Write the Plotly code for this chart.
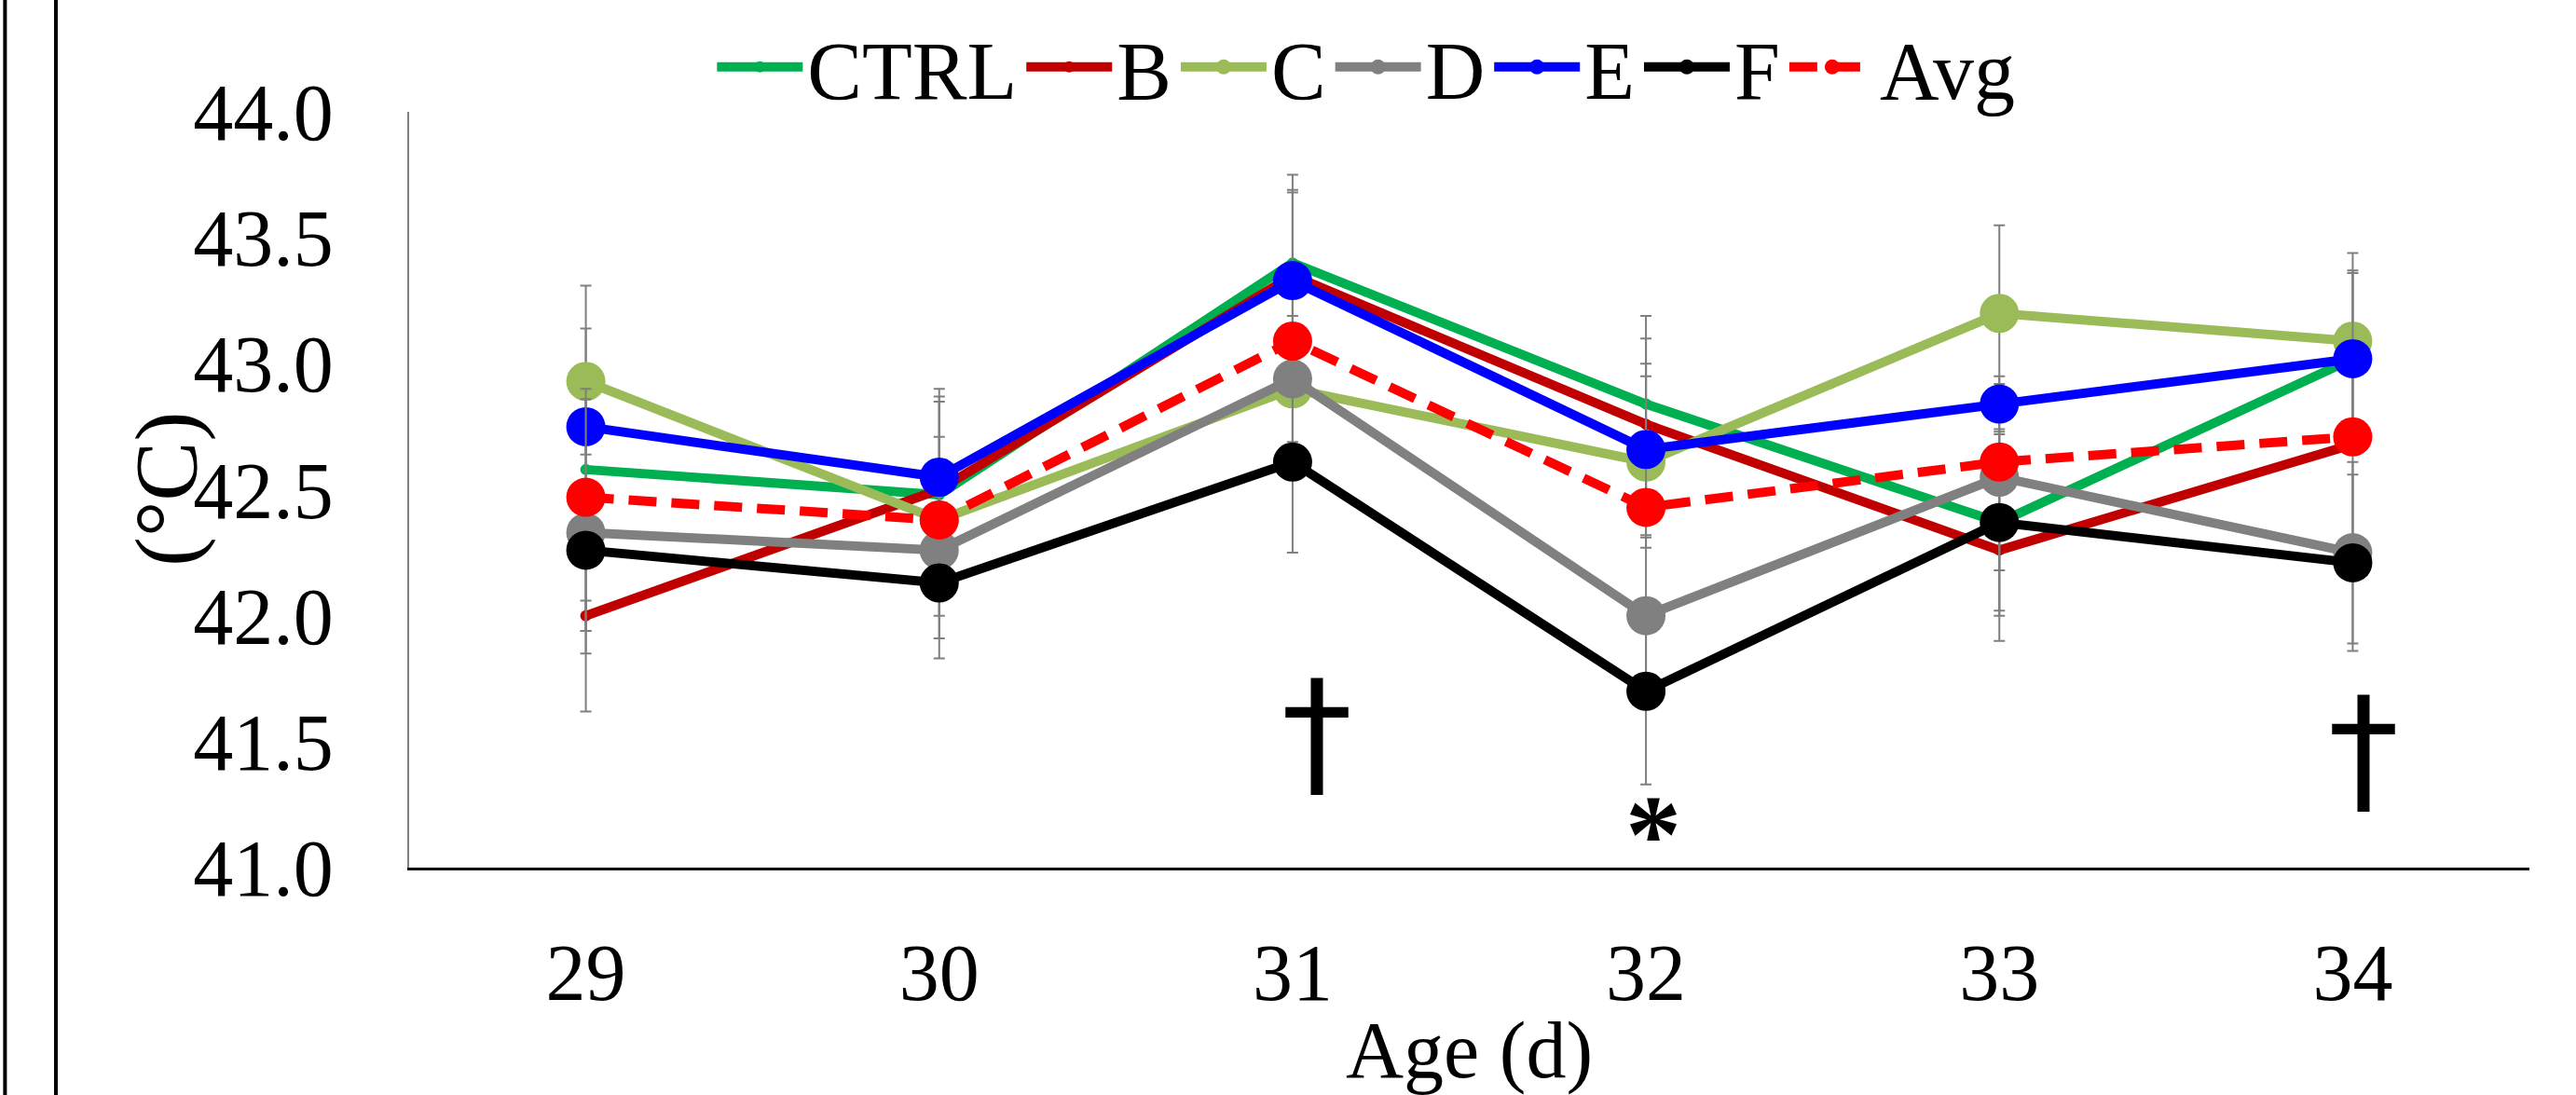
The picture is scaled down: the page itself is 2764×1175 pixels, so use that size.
import plotly.graph_objects as go

# ---------------- data ----------------
ages = [29, 30, 31, 32, 33, 34]
age_labels = ["29", "30", "31", "32", "33", "34"]

ctrl_vals = [42.58, 42.48, 43.40, 42.84, 42.37, 43.02]
b_vals = [42.00, 42.50, 43.35, 42.76, 42.26, 42.68]
c_vals = [42.93, 42.38, 42.90, 42.61, 43.20, 43.09]
d_vals = [42.33, 42.26, 42.94, 42.00, 42.55, 42.25]
e_vals = [42.75, 42.55, 43.33, 42.66, 42.84, 43.02]
f_vals = [42.26, 42.13, 42.61, 41.70, 42.37, 42.21]
avg_vals = [42.47, 42.38, 43.09, 42.43, 42.61, 42.71]

ctrl_err = [0.73, 0.37, 0.35, 0.35, 0.35, 0.34]
b_err = [0.06, 0.37, 0.34, 0.34, 0.36, 0.36]
c_err_up = [0.21, 0.33, 0.25, 0.34, 0.35, 0.35]
c_err_down = [0.21, 0.38, 0.25, 0.34, 0.35, 0.35]
d_err = [0.39, 0.35, 0.25, 0.31, 0.37, 0.36]
e_err = [0.11, 0.35, 0.35, 0.34, 0.11, 0.35]
f_err = [0.64, 0.30, 0.36, 0.37, 0.37, 0.35]

# significance marks: age, level (°C), symbol
mark_ages = [31, 32, 34]
mark_levels = [41.54, 41.13, 41.47]
mark_texts = ["†", "*", "†"]

y_ticks = [41.0, 41.5, 42.0, 42.5, 43.0, 43.5, 44.0]

FONT = "Liberation Serif"
ERR_COLOR = "#7F7F7F"

series = [
    ("CTRL", ctrl_vals, ctrl_err, ctrl_err, "#00B050", 12, "solid"),
    ("B", b_vals, b_err, b_err, "#C00000", 12, "solid"),
    ("C", c_vals, c_err_up, c_err_down, "#9BBB59", 42, "solid"),
    ("D", d_vals, d_err, d_err, "#808080", 42, "solid"),
    ("E", e_vals, e_err, e_err, "#0000FF", 42, "solid"),
    ("F", f_vals, f_err, f_err, "#000000", 42, "solid"),
    ("Avg", avg_vals, None, None, "#FF0000", 42, "30px,16px"),
]

fig = go.Figure()
for name, vals, eu, ed, color, msize, dash in series:
    err = None
    if eu is not None:
        err = dict(type="data", array=eu, arrayminus=ed, symmetric=False,
                   color=ERR_COLOR, thickness=2, width=6)
    fig.add_trace(go.Scatter(
        x=ages, y=vals, name=name, mode="lines+markers",
        line=dict(color=color, width=10, dash=dash),
        marker=dict(color=color, size=msize, symbol="circle"),
        error_y=err,
    ))

mark_style = {
    "†": dict(family="DejaVu Sans", size=152, bold=False, shift=[26, 0, 12]),
    "*": dict(family=FONT, size=120, bold=True, shift=[0, 8, 0]),
}
for i, (xa, ya, t) in enumerate(zip(mark_ages, mark_levels, mark_texts)):
    st = mark_style[t]
    fig.add_annotation(
        x=xa, y=ya, text=f"<b>{t}</b>" if st["bold"] else t, showarrow=False,
        xshift=st["shift"][i],
        font=dict(family=st["family"], size=st["size"], color="black"),
    )

# y-axis title placed beside the tick labels
fig.add_annotation(
    xref="paper", yref="paper", x=-0.1145, y=0.5, text="(°C)", textangle=-90,
    showarrow=False, xanchor="center", yanchor="middle",
    font=dict(family=FONT, size=96, color="black"),
)

# double vertical rule at the left edge of the page
for xp in [-0.1906, -0.1666]:
    fig.add_shape(type="line", xref="paper", yref="paper",
                  x0=xp, x1=xp, y0=-0.32, y1=1.17,
                  line=dict(color="black", width=4))

fig.update_layout(
    width=2764, height=1175,
    margin=dict(l=439, r=50, t=120, b=244, autoexpand=False),
    paper_bgcolor="white", plot_bgcolor="white",
    font=dict(family=FONT, size=86, color="black"),
    showlegend=True,
    legend=dict(orientation="h", x=0.143, xanchor="left", y=1.059, yanchor="middle",
                font=dict(family=FONT, size=88), itemwidth=92,
                bgcolor="rgba(0,0,0,0)"),
)
fig.update_xaxes(
    range=[28.5, 34.5], tickmode="array", tickvals=ages, ticktext=age_labels,
    showline=True, linecolor="black", linewidth=3, showgrid=False, zeroline=False,
    ticks="", ticklabelstandoff=36, automargin=False,
    title=dict(text="Age (d)", font=dict(family=FONT, size=86), standoff=37),
)
fig.update_yaxes(
    range=[41.0, 44.0], tickmode="array", tickvals=y_ticks,
    ticktext=[f"{v:.1f}" for v in y_ticks],
    showline=True, linecolor="#7F7F7F", linewidth=2, showgrid=False, zeroline=False,
    ticks="", ticklabelstandoff=62, automargin=False,
)

fig.write_html("out.html")
